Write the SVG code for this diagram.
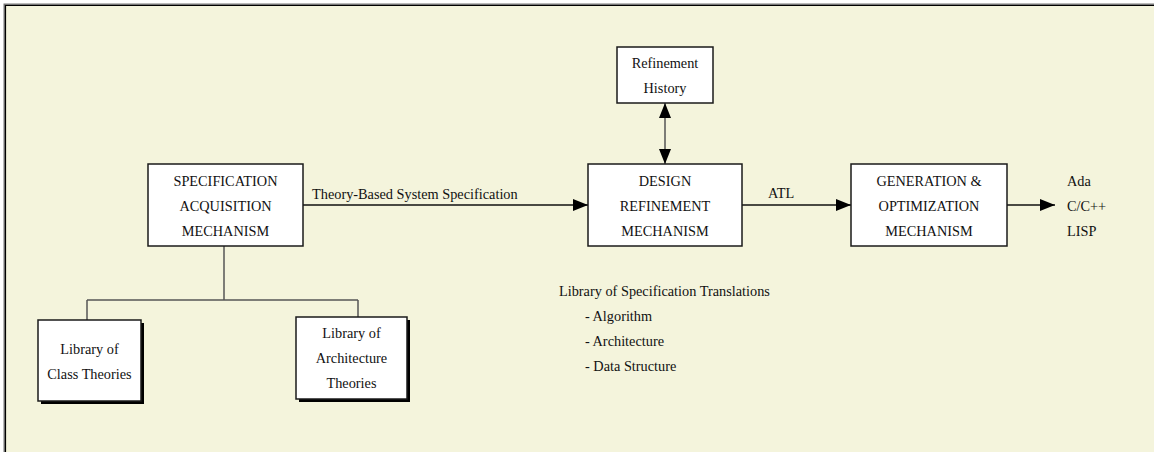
<svg xmlns="http://www.w3.org/2000/svg" width="1154" height="452" viewBox="0 0 1154 452">
  <style>
    .box { fill: #ffffff; stroke: #1a1a1a; stroke-width: 1.5; }
    .shadow { fill: #000000; }
    .t { font-family: "Liberation Serif", "Times New Roman", serif; font-size: 14.3px; fill: #111111; }
    .c { text-anchor: middle; }
    .flow { stroke: #111111; stroke-width: 1.5; fill: none; }
    .tree { stroke: #555555; stroke-width: 1.5; fill: none; }
  </style>
  <defs>
    <marker id="arrow" markerWidth="16" markerHeight="12" refX="15" refY="6" orient="auto" markerUnits="userSpaceOnUse">
      <path d="M0,0 L15,6 L0,12 Z" fill="#000000"/>
    </marker>
    <marker id="arrowStart" markerWidth="16" markerHeight="12" refX="1" refY="6" orient="auto" markerUnits="userSpaceOnUse">
      <path d="M16,0 L1,6 L16,12 Z" fill="#000000"/>
    </marker>
  </defs>

  <!-- page and panel -->
  <rect x="0" y="0" width="1154" height="452" fill="#ffffff"/>
  <rect x="5" y="5" width="1149" height="447" fill="#f4f4dc"/>
  <path d="M4.5,452 V4.5 H1154" stroke="#777777" stroke-width="2" fill="none"/>
  <path d="M5.5,452 V5.5 H1154" stroke="#000000" stroke-width="1.2" fill="none"/>

  <!-- connectors -->
  <g id="connectors">
    <line class="flow" x1="303" y1="205" x2="588" y2="205" marker-end="url(#arrow)"/>
    <text class="t" x="312" y="199">Theory-Based System Specification</text>
    <line class="flow" x1="742" y1="205" x2="851" y2="205" marker-end="url(#arrow)"/>
    <text class="t" x="768" y="198">ATL</text>
    <line class="flow" x1="1007" y1="205" x2="1055" y2="205" marker-end="url(#arrow)"/>
    <line class="tree" x1="665" y1="103" x2="665" y2="164" marker-start="url(#arrowStart)" marker-end="url(#arrow)"/>
    <path class="tree" d="M224,246 V300 M87,300 H358 M87,300 V320 M358,300 V317"/>
  </g>

  <g id="spec-acquisition">
    <rect class="box" x="148" y="164" width="155" height="82"/>
    <text class="t c" x="225.5" y="186">SPECIFICATION</text>
    <text class="t c" x="225.5" y="211">ACQUISITION</text>
    <text class="t c" x="225.5" y="236">MECHANISM</text>
  </g>

  <g id="refinement-history">
    <rect class="box" x="617" y="47" width="96" height="56"/>
    <text class="t c" x="665" y="68">Refinement</text>
    <text class="t c" x="665" y="93">History</text>
  </g>

  <g id="design-refinement">
    <rect class="box" x="588" y="164" width="154" height="82"/>
    <text class="t c" x="665" y="186">DESIGN</text>
    <text class="t c" x="665" y="211">REFINEMENT</text>
    <text class="t c" x="665" y="236">MECHANISM</text>
  </g>

  <g id="generation-optimization">
    <rect class="box" x="851" y="164" width="156" height="82"/>
    <text class="t c" x="929" y="186">GENERATION &amp;</text>
    <text class="t c" x="929" y="211">OPTIMIZATION</text>
    <text class="t c" x="929" y="236">MECHANISM</text>
  </g>

  <g id="target-languages">
    <text class="t" x="1067" y="186">Ada</text>
    <text class="t" x="1067" y="211">C/C++</text>
    <text class="t" x="1067" y="236">LISP</text>
  </g>

  <g id="class-theories">
    <rect class="shadow" x="41" y="323" width="103" height="81"/>
    <rect class="box" x="38" y="320" width="103" height="81"/>
    <text class="t c" x="89.5" y="354">Library of</text>
    <text class="t c" x="89.5" y="379">Class Theories</text>
  </g>

  <g id="architecture-theories">
    <rect class="shadow" x="299" y="320" width="111" height="82"/>
    <rect class="box" x="296" y="317" width="111" height="82"/>
    <text class="t c" x="351.5" y="338">Library of</text>
    <text class="t c" x="351.5" y="363">Architecture</text>
    <text class="t c" x="351.5" y="388">Theories</text>
  </g>

  <g id="spec-translations">
    <text class="t" x="559" y="296">Library of Specification Translations</text>
    <text class="t" x="585" y="321">- Algorithm</text>
    <text class="t" x="585" y="346">- Architecture</text>
    <text class="t" x="585" y="371">- Data Structure</text>
  </g>
</svg>
